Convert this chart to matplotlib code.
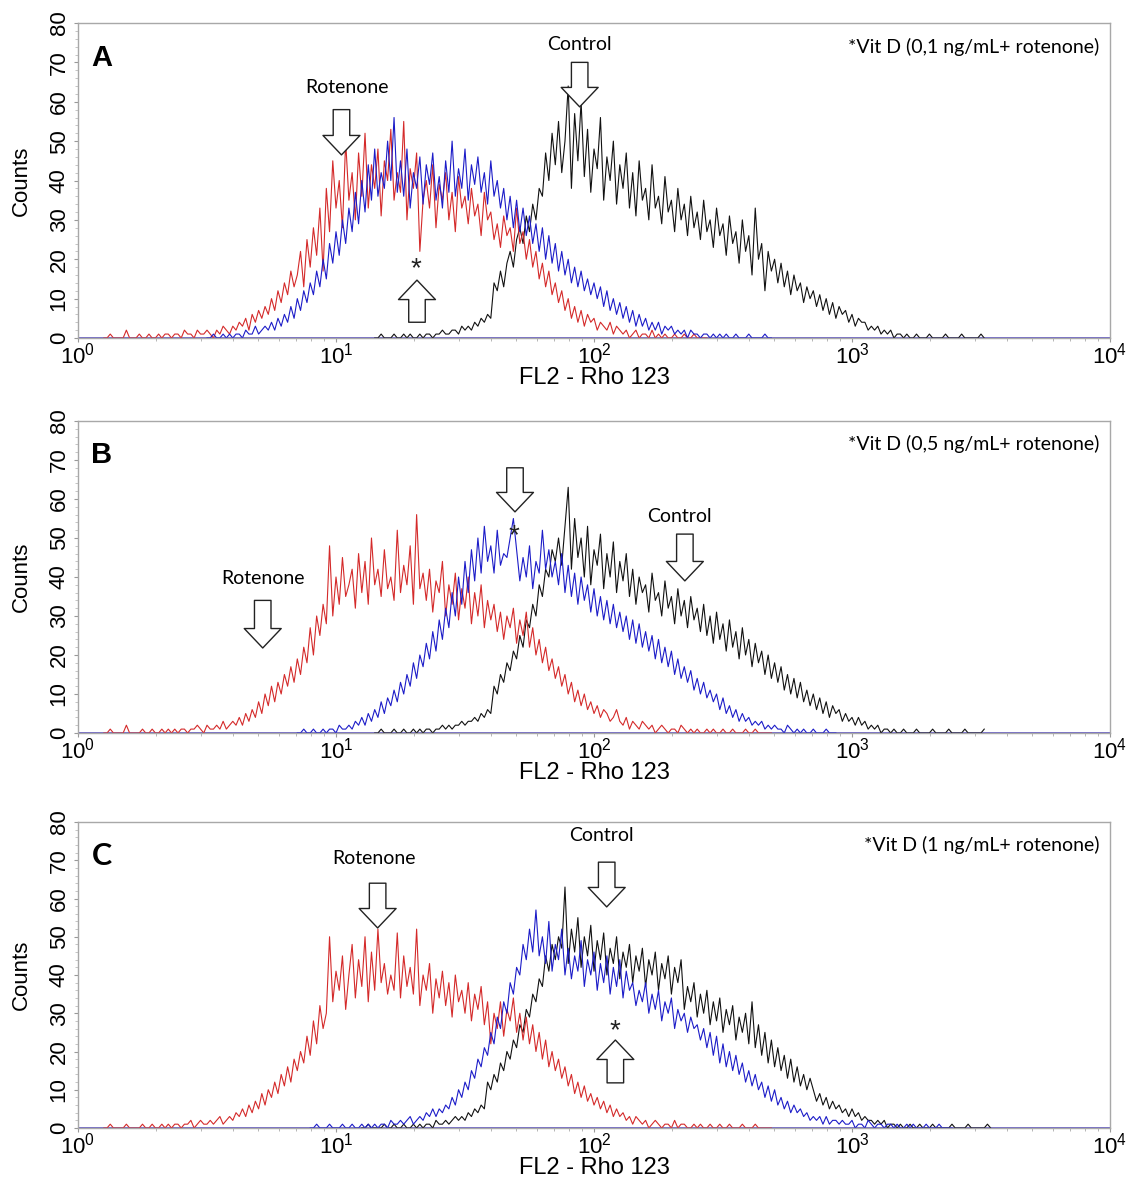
import numpy as np
import matplotlib
matplotlib.use("Agg")
import matplotlib.pyplot as plt

plt.rcParams['font.family'] = ['Liberation Sans', 'DejaVu Sans']

STEP = 0.0125  # channel spacing in log10 units

# ---------------- Panel A ----------------
a_red_start = 0.10
a_red = [0,0,1,0,0,0,0,2,0,0,0,1,0,0,1,0,0,1,0,1,
         1,0,1,1,0,2,1,1,0,2,1,1,2,1,0,2,1,3,2,1,
         3,2,4,3,5,2,6,4,7,5,8,6,10,7,12,9,14,11,17,13,
         16,22,13,25,18,28,21,33,17,38,27,45,33,40,28,50,35,42,30,47,
         36,52,33,44,38,48,31,45,40,53,35,42,37,55,30,43,38,47,22,35,
         40,33,44,28,39,35,42,30,37,27,41,33,36,29,38,31,34,26,37,30,
         32,25,29,23,31,26,28,22,33,24,27,20,25,18,22,15,19,13,17,11,
         14,9,12,7,10,5,8,4,7,3,6,4,5,2,4,3,2,4,1,3,
         2,1,2,0,1,2,0,1,1,0,2,0,1,0,1,0,0,1,0,0,
         1,0,0,1,0,0,0,0]
a_blue_start = 0.50
a_blue = [0,0,1,0,0,1,0,1,0,1,1,0,2,1,1,3,1,2,3,2,
          4,2,5,3,6,4,8,5,10,7,12,9,14,11,17,13,20,15,24,19,
          27,21,30,24,33,27,37,29,40,32,44,35,48,36,42,38,50,40,56,37,
          45,36,48,33,42,38,46,34,44,39,47,35,41,33,45,37,50,36,43,38,
          48,35,44,39,46,37,42,34,45,36,40,33,38,30,36,28,35,27,33,26,
          31,24,29,22,28,20,26,19,24,17,22,16,20,14,18,13,17,12,15,11,
          14,10,13,8,12,7,10,6,9,5,8,4,7,3,6,3,5,2,4,2,
          4,1,3,2,3,1,2,1,2,0,2,1,1,0,1,1,0,1,0,1,
          0,1,0,0,1,0,0,0,1,0,0,0,0,1,0,0]
a_black_start = 1.15
a_black = [0,0,1,0,0,0,1,0,0,1,0,1,0,0,1,0,1,1,0,1,
           1,2,1,1,2,2,1,3,2,3,2,4,3,5,4,6,5,14,12,17,
           13,19,22,18,25,28,24,31,27,34,30,38,36,47,40,52,44,55,42,50,
           64,38,57,45,60,41,53,37,48,43,56,35,46,40,50,34,44,38,47,33,
           42,31,45,35,38,30,44,33,36,29,41,32,35,27,38,30,34,26,36,28,
           32,25,35,27,30,23,33,26,29,21,31,24,27,19,30,22,26,16,33,20,
           24,12,22,17,20,14,19,13,17,11,16,12,14,9,13,10,12,8,11,7,
           10,6,9,5,8,6,7,4,6,3,5,4,4,2,3,2,3,1,2,1,
           2,0,1,1,0,1,0,0,1,0,0,0,1,0,0,0,0,1,0,0,
           0,0,1,0,0,0,0,0,1,0]

# ---------------- Panel B ----------------
b_red_start = 0.10
b_red = [0,0,1,0,0,0,0,2,0,0,0,0,1,0,0,1,0,0,1,0,
         1,0,1,0,1,1,0,1,1,2,1,0,2,1,1,2,1,3,1,2,
         3,2,4,2,5,3,6,4,8,5,10,7,12,8,13,10,15,12,17,13,
         19,15,22,18,27,20,30,25,33,28,48,30,40,33,45,35,38,42,32,46,
         36,44,33,50,38,42,35,47,37,40,34,52,36,43,38,48,33,56,37,41,
         34,42,31,39,36,44,30,38,33,41,29,37,32,40,28,36,30,38,27,34,
         29,33,26,31,24,30,27,32,23,29,25,31,22,27,20,24,18,22,16,19,
         14,17,12,15,10,13,8,11,7,10,6,8,5,7,4,6,5,3,4,6,
         3,2,4,1,3,2,1,3,2,1,2,0,1,2,1,0,1,1,0,2,
         1,0,1,0,1,0,0,1,0,1,0,0,1,0,0,1,0,0,0,1,
         0,0,1,0,0,0,0,0]
b_blue_start = 0.85
b_blue = [0,0,1,0,0,1,0,0,1,0,1,1,0,2,1,1,2,1,3,2,
          4,2,5,3,6,4,8,5,9,7,11,8,13,10,15,12,18,14,20,17,
          23,19,26,21,29,24,32,27,36,30,40,33,44,36,47,39,50,41,53,44,
          48,41,52,43,46,45,50,55,47,39,45,40,48,37,44,41,52,42,47,40,
          44,38,46,36,43,35,41,33,40,34,38,31,37,30,35,29,34,28,33,27,
          31,26,30,24,29,23,28,22,26,21,25,19,24,18,22,17,21,15,19,14,
          17,13,16,11,14,10,13,9,11,8,10,6,9,5,7,4,6,3,5,3,
          4,2,3,2,3,1,2,1,2,1,1,0,2,1,0,1,0,1,0,0,
          1,0,0,0,1,0,0,0]
b_black_start = 1.15
b_black = [0,0,1,0,0,0,1,0,0,1,0,0,1,0,1,0,1,1,0,1,
           1,2,1,2,1,2,2,3,2,3,3,4,3,5,4,6,5,12,10,15,
           13,18,16,21,19,25,22,29,27,33,30,38,35,42,40,47,44,50,43,53,
           63,42,55,45,50,40,53,38,47,43,51,37,46,40,49,36,44,39,46,35,
           42,33,40,36,38,31,41,34,36,30,39,32,35,28,37,30,34,27,35,29,
           32,26,33,25,30,23,31,24,28,21,29,22,26,19,27,20,24,17,23,18,
           21,15,20,14,18,13,17,11,15,10,14,9,13,8,11,7,10,6,9,5,
           8,4,7,5,6,3,5,3,4,2,4,2,3,1,2,1,2,0,1,1,
           0,1,0,0,1,0,0,0,1,0,0,0,0,1,0,0,0,0,1,0,
           0,0,0,1,0,0,0,0,0,1]

# ---------------- Panel C ----------------
c_red_start = 0.10
c_red = [0,0,1,0,0,0,0,1,0,0,0,0,1,0,0,1,0,0,1,0,
         1,0,1,1,0,1,1,2,0,1,2,1,1,2,1,2,3,1,2,3,
         2,4,3,5,3,6,4,7,5,9,6,10,8,12,9,14,11,16,12,18,
         15,20,17,24,19,28,22,32,26,30,50,33,41,36,45,31,40,48,34,44,
         37,50,33,46,36,52,38,43,35,40,36,51,34,45,37,42,35,52,32,40,
         36,43,30,39,34,41,32,38,29,40,33,36,30,38,28,35,31,37,27,33,
         22,30,26,33,24,31,28,34,25,30,23,29,22,27,20,25,18,23,16,20,
         15,18,13,16,11,14,9,12,8,11,7,9,6,8,5,7,4,6,3,5,
         3,4,2,3,1,3,2,1,2,0,1,2,1,0,1,1,0,2,0,1,
         1,0,0,1,0,1,0,0,1,0,0,1,0,0,1,0,0,0,1,0,
         0,0,1,0,0,0,0,0]
c_blue_start = 0.90
c_blue = [0,0,1,0,0,0,1,0,0,0,1,0,0,1,0,0,1,0,1,0,
          1,0,1,1,0,2,1,1,2,1,2,3,1,2,3,2,4,3,5,3,
          5,4,6,5,8,6,10,8,12,10,15,13,18,16,21,19,25,22,29,26,
          33,30,38,35,42,40,48,44,52,46,57,45,50,43,54,41,48,44,52,40,
          47,39,45,41,49,37,44,40,46,36,43,38,45,35,42,37,44,34,41,36,
          38,32,36,33,38,30,35,31,36,28,33,30,34,26,31,28,30,25,29,26,
          27,23,26,21,25,19,24,17,22,16,20,15,19,14,17,12,15,11,14,10,
          12,8,11,7,10,6,8,5,7,4,6,4,5,3,4,2,3,2,3,1,
          3,1,2,2,1,2,1,1,2,0,1,1,0,2,1,0,1,1,0,1,
          1,0,1,0,0,1,0,1,0,0,0,1,0,0,0,1,0,0,0,0]
c_black_start = 1.10
c_black = [0,0,1,0,0,0,0,1,0,0,1,0,0,1,0,0,1,0,1,0,
           1,1,0,2,1,1,2,1,2,3,2,3,2,4,3,5,4,6,5,12,
           10,14,12,17,15,20,18,23,21,27,25,31,29,35,33,39,37,45,41,48,
           44,50,47,63,43,52,46,55,42,50,45,53,41,49,44,51,40,47,43,50,
           39,46,42,48,38,45,41,47,37,44,40,46,36,43,39,45,35,42,38,44,
           31,37,33,38,29,35,30,36,27,33,28,34,25,31,27,32,23,29,25,30,
           22,33,21,27,19,25,17,23,16,21,15,19,13,18,12,16,11,14,10,13,
           10,7,9,6,8,5,7,5,6,4,5,3,5,3,4,2,3,2,2,1,
           2,1,2,0,1,1,0,1,0,0,1,0,0,1,0,0,0,1,0,0,
           0,0,0,1,0,0,0,0,1,0,0,0,0,0,1,0]

panel_letters = ["A", "B", "C"]
vit_labels = ["*Vit D (0,1 ng/mL+ rotenone)",
              "*Vit D (0,5 ng/mL+ rotenone)",
              "*Vit D (1 ng/mL+ rotenone)"]
y_ticks = [0, 10, 20, 30, 40, 50, 60, 70, 80]
x_ticks = [1, 10, 100, 1000, 10000]
x_tick_labels = [r'$\mathregular{10^{0}}$', r'$\mathregular{10^{1}}$',
                 r'$\mathregular{10^{2}}$', r'$\mathregular{10^{3}}$',
                 r'$\mathregular{10^{4}}$']

panels = [
    dict(red=(a_red_start, a_red), blue=(a_blue_start, a_blue), black=(a_black_start, a_black)),
    dict(red=(b_red_start, b_red), blue=(b_blue_start, b_blue), black=(b_black_start, b_black)),
    dict(red=(c_red_start, c_red), blue=(c_blue_start, c_blue), black=(c_black_start, c_black)),
]

annots = [
    dict(labels=[("Rotenone", 11.0, 63.5), ("Control", 88, 74.5)],
         arrows=[(10.5, 58, 46.5), (88, 70, 58.7), (20.6, 4, 14.7)],
         stars=[(20.4, 17.5)]),
    dict(labels=[("Rotenone", 5.2, 39.7), ("Control", 215, 55.6)],
         arrows=[(5.2, 34, 21.8), (49.4, 68, 56.7), (225, 51, 39)],
         stars=[(49, 50.5)]),
    dict(labels=[("Rotenone", 14.0, 70.5), ("Control", 107, 76.5)],
         arrows=[(14.5, 64, 52.3), (112, 69.5, 57.8), (121, 11.8, 23)],
         stars=[(120, 25.3)]),
]

colors = dict(red='#d42a2a', blue='#1c1cc8', black='#111111')

W, H = 1138, 1177
fig = plt.figure(figsize=(W / 100, H / 100), dpi=100)
# (left_px, top_px, right_px, bottom_px)
pix_boxes = [(78, 23, 1110, 338), (78, 421, 1110, 733), (78, 822, 1110, 1128)]

for i, (pb, pdata, ann) in enumerate(zip(pix_boxes, panels, annots)):
    l, t, r, b = pb
    ax = fig.add_axes([l / W, 1 - b / H, (r - l) / W, (b - t) / H])
    hpx = b - t
    ax.set_xscale('log')
    ax.set_xlim(1, 1e4)
    ax.set_ylim(0, 80)
    ax.axhline(0, color='#5a4fc0', lw=1.2, zorder=1)
    for key in ['black', 'red', 'blue']:
        start, vals = pdata[key]
        lx = start + STEP * np.arange(len(vals))
        ax.plot(10 ** lx, vals, color=colors[key], lw=0.8, zorder=2)
    for sp in ax.spines.values():
        sp.set_color('#a8a8a8')
        sp.set_linewidth(1.0)
    ax.set_yticks(y_ticks)
    ax.set_yticklabels([str(v) for v in y_ticks], rotation=90, va='center', fontsize=16)
    ax.set_yticks(np.arange(0, 81, 2), minor=True)
    ax.tick_params(axis='y', which='major', length=3, color='#999999', pad=3)
    ax.tick_params(axis='y', which='minor', length=2, color='#bbbbbb')
    ax.set_xticks(x_ticks)
    ax.set_xticklabels(x_tick_labels, fontsize=16)
    ax.tick_params(axis='x', which='major', length=3, color='#999999', pad=0.5)
    ax.tick_params(axis='x', which='minor', length=2, color='#aaaaaa')
    ax.set_xlabel("FL2 - Rho 123", fontsize=17)
    ax.xaxis.set_label_coords(0.5, -29.0 / hpx)
    ax.set_ylabel("Counts", fontsize=16)
    ax.yaxis.set_label_coords(-46.0 / (r - l), 0.5)

    if i < 2:
        ax.text(0.013, 0.89, panel_letters[i], transform=ax.transAxes, fontsize=21,
                fontweight='bold', family='Liberation Sans', va='center', ha='left')
    else:
        ax.text(0.013, 0.89, panel_letters[i], transform=ax.transAxes, fontsize=22,
                fontweight='bold', family='Lato', va='center', ha='left')
    ax.text(0.99, 0.925, vit_labels[i], transform=ax.transAxes, fontsize=14,
            family='Lato', ha='right', va='center')
    for txt, x, y in ann['labels']:
        ax.text(x, y, txt, fontsize=14, family='Lato', ha='center', va='center')
    for x, y0, y1 in ann['arrows']:
        ax.annotate('', xy=(x, y1), xytext=(x, y0),
                    arrowprops=dict(arrowstyle='simple,head_width=1.9,head_length=1.0,tail_width=0.85',
                                    fc='white', ec='#222222', lw=1.0, mutation_scale=14,
                                    shrinkA=0, shrinkB=0), zorder=5)
    for x, y in ann['stars']:
        ax.text(x, y, '*', fontsize=20, ha='center', va='center', color='#222222')

fig.savefig('out.png', dpi=100)
